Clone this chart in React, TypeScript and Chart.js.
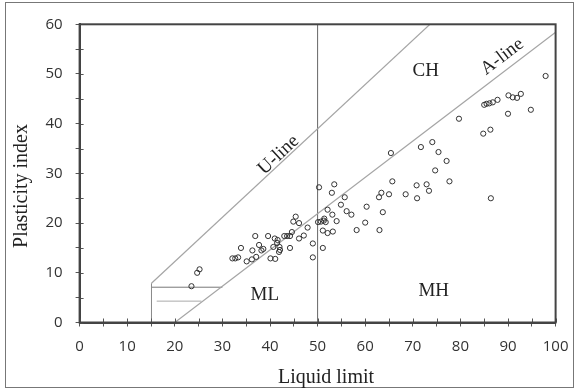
import React, { useEffect, useRef } from "react";
import { Chart, registerables } from "chart.js";

Chart.register(...registerables);

// Sample points: liquid limit (x) and plasticity index (y)
const liquidLimit = [
  23.5, 24.7, 25.2, 32.1, 32.7, 33.3, 33.9, 35.1, 36.2, 36.3, 36.9, 37.1, 37.7, 38.2, 38.6,
  39.6, 40.1, 40.7, 41.0, 41.1, 41.5, 41.9, 42.0, 43.0, 43.6, 44.2, 44.2, 44.6, 44.9, 45.4,
  46.1, 46.1, 47.1, 47.9, 49.0, 49.0, 50.3, 50.1, 50.7, 51.1, 51.1, 51.3, 51.7, 52.1, 52.1,
  53.0, 53.1, 53.2, 53.5, 54.0, 54.9, 55.7, 56.1, 57.1, 58.2, 60.0, 60.3, 63.0, 62.9, 63.4,
  63.7, 65.0, 65.4, 65.7, 68.5, 70.8, 70.9, 71.7, 72.9, 73.4, 74.1, 74.7, 75.4, 77.1, 77.7,
  79.7, 84.8, 86.3, 86.4, 85.0, 85.5, 86.1, 86.8, 87.8, 90.0, 90.1, 91.0, 91.9, 92.7, 94.8,
  97.9, 41.6, 42.1, 51.4,
];
const plasticityIndex = [
  7.3, 10.0, 10.7, 12.9, 12.9, 13.1, 15.0, 12.3, 12.7, 14.5, 17.4, 13.2, 15.6, 14.5, 14.8,
  17.4, 12.9, 15.2, 16.9, 12.8, 16.0, 14.2, 15.2, 17.4, 17.4, 17.4, 15.0, 18.2, 20.3, 21.3,
  20.0, 16.9, 17.5, 19.1, 15.9, 13.1, 27.2, 20.2, 20.3, 18.5, 15.0, 20.5, 20.2, 22.7, 18.0,
  26.1, 21.7, 18.3, 27.8, 20.4, 23.7, 25.2, 22.4, 21.7, 18.6, 20.1, 23.3, 18.6, 25.2, 26.1,
  22.2, 25.8, 34.1, 28.4, 25.8, 27.6, 25.0, 35.3, 27.8, 26.5, 36.3, 30.6, 34.3, 32.5, 28.4,
  41.0, 38.0, 38.8, 25.0, 43.8, 44.0, 44.1, 44.3, 44.8, 42.0, 45.7, 45.3, 45.2, 46.0, 42.8,
  49.6, 16.6, 14.6, 20.9,
];

// Reference lines of the plasticity chart
const uLineLL = [15.1, 73.6];
const uLinePI = [7.9, 60];
const aLineLL = [20, 100];
const aLinePI = [0, 58.4];
const llDividerLL = [50, 50];
const llDividerPI = [0, 60];
const mlBoxVertLL = [15.1, 15.1];
const mlBoxVertPI = [0, 7.9];
const mlUpperLL = [15.1, 30.0];
const mlUpperPI = [7.1, 7.1];
const mlLowerLL = [16.2, 25.6];
const mlLowerPI = [4.3, 4.3];

// Axis ranges and tick spacing (ticks every 5, labels every 10)
const xRange = [0, 100];
const yRange = [0, 60];
const tickStep = 5;
const labelStep = 10;
const xTitle = "Liquid limit";
const yTitle = "Plasticity index";

// Zone labels: text, LL, PI, rotation (deg)
const zoneText = ["U-line", "CH", "A-line", "ML", "MH"];
const zoneLL = [41.8, 72.7, 88.8, 38.9, 74.4];
const zonePI = [33.7, 50.6, 53.5, 5.5, 6.3];
const zoneAngle = [-43, 0, -37, 0, 0];

const pairs = (xs: number[], ys: number[]) => xs.map((x, i) => ({ x, y: ys[i] }));
const labelEvery = (v: any) => (Math.abs(Number(v) % labelStep) < 1e-6 ? String(v) : "");

const decorPlugin = {
  id: "decor",
  afterDraw(chart: any) {
    const ctx = chart.ctx;
    const a = chart.chartArea;
    const xs = chart.scales.x;
    const ys = chart.scales.y;
    ctx.save();
    // inner half of the crossing tick marks
    ctx.lineWidth = 1;
    ctx.strokeStyle = "rgb(85,85,85)";
    for (let v = xRange[0]; v <= xRange[1]; v += tickStep) {
      const px = Math.round(xs.getPixelForValue(v)) + 0.5;
      ctx.beginPath();
      ctx.moveTo(px, a.bottom - 4);
      ctx.lineTo(px, a.bottom);
      ctx.stroke();
    }
    for (let v = yRange[0]; v <= yRange[1]; v += tickStep) {
      const py = Math.round(ys.getPixelForValue(v)) + 0.5;
      ctx.beginPath();
      ctx.moveTo(a.left, py);
      ctx.lineTo(a.left + 4, py);
      ctx.stroke();
    }
    // plot frame
    ctx.lineWidth = 2;
    ctx.strokeStyle = "rgb(68,68,68)";
    ctx.strokeRect(a.left, a.top, a.right - a.left, a.bottom - a.top);
    // outer frame of the figure
    ctx.lineWidth = 1;
    ctx.strokeStyle = "rgb(119,119,119)";
    ctx.strokeRect(5.5, 2.5, 568, 385);
    // zone labels
    ctx.fillStyle = "#222";
    ctx.font = '19px "Liberation Serif"';
    ctx.textAlign = "center";
    ctx.textBaseline = "middle";
    for (let i = 0; i < zoneText.length; i++) {
      const px = xs.getPixelForValue(zoneLL[i]);
      const py = ys.getPixelForValue(zonePI[i]);
      ctx.save();
      ctx.translate(px, py);
      ctx.rotate((zoneAngle[i] * Math.PI) / 180);
      ctx.fillText(zoneText[i], 0, 0);
      ctx.restore();
    }
    // axis titles
    ctx.font = '20px "Liberation Serif"';
    ctx.fillText(xTitle, 326, 378);
    ctx.save();
    ctx.translate(22, 186);
    ctx.rotate(-Math.PI / 2);
    ctx.fillText(yTitle, 0, 0);
    ctx.restore();
    ctx.restore();
  },
};

export default function App() {
  const canvasRef = useRef<HTMLCanvasElement | null>(null);

  useEffect(() => {
    document.body.style.margin = "0";
    const canvas = canvasRef.current;
    if (!canvas) return;
    const lineDs = (label: string, xs: number[], ys: number[], color: string, width = 1) => ({
      type: "line" as const,
      label,
      data: pairs(xs, ys),
      borderColor: color,
      borderWidth: width,
      pointRadius: 0,
      fill: false,
      showLine: true,
      tension: 0,
    });
    const chart = new Chart(canvas, {
      type: "scatter",
      data: {
        datasets: [
          {
            label: "Samples",
            data: pairs(liquidLimit, plasticityIndex),
            pointRadius: 2.6,
            pointBorderWidth: 1,
            borderColor: "#333",
            backgroundColor: "rgba(255,255,255,0)",
          },
          lineDs("U-line", uLineLL, uLinePI, "#a5a5a5", 1.2),
          lineDs("A-line", aLineLL, aLinePI, "#a5a5a5", 1.2),
          lineDs("LL = 50", llDividerLL, llDividerPI, "#666", 1),
          lineDs("CL-ML left", mlBoxVertLL, mlBoxVertPI, "#888", 1),
          lineDs("CL-ML upper", mlUpperLL, mlUpperPI, "#777", 1),
          lineDs("CL-ML lower", mlLowerLL, mlLowerPI, "#aaa", 1),
        ],
      },
      options: {
        responsive: false,
        animation: false,
        layout: { padding: { left: 0, right: 19.4, top: 24.3, bottom: 0 } },
        plugins: { legend: { display: false }, tooltip: { enabled: false } },
        scales: {
          x: {
            type: "linear",
            min: xRange[0],
            max: xRange[1],
            afterFit: (s: any) => {
              s.height = 67.5;
              s.paddingLeft = 0;
              s.paddingRight = 0;
            },
            grid: { display: true, drawOnChartArea: false, drawTicks: true, tickLength: 4, color: "#555", lineWidth: 1 },
            border: { display: true, color: "#444", width: 2 },
            ticks: {
              stepSize: tickStep,
              autoSkip: false,
              maxRotation: 0,
              padding: 11,
              color: "#333",
              font: { family: "Open Sans", size: 15 },
              callback: labelEvery,
            },
          },
          y: {
            type: "linear",
            min: yRange[0],
            max: yRange[1],
            afterFit: (s: any) => {
              s.width = 79.6;
              s.paddingTop = 0;
              s.paddingBottom = 0;
            },
            grid: { display: true, drawOnChartArea: false, drawTicks: true, tickLength: 4, color: "#555", lineWidth: 1 },
            border: { display: true, color: "#444", width: 2 },
            ticks: {
              stepSize: tickStep,
              autoSkip: false,
              padding: 13,
              color: "#333",
              font: { family: "Open Sans", size: 15 },
              callback: labelEvery,
            },
          },
        },
      },
      plugins: [decorPlugin],
    });
    return () => chart.destroy();
  }, []);

  return (
    <div style={{ width: 575, height: 390, background: "#fff" }}>
      <canvas ref={canvasRef} width={575} height={390} style={{ display: "block" }} />
    </div>
  );
}
